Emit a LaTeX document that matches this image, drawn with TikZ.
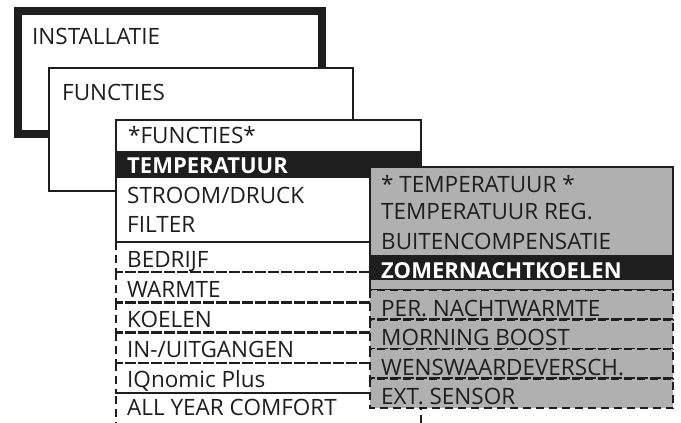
\documentclass[tikz,border=0pt]{standalone}
\usepackage{fontspec}
\setmainfont{Open Sans}
\usepackage{tikz}
\usetikzlibrary{positioning}
\definecolor{ink}{HTML}{1E1E1E}
\definecolor{panel}{HTML}{B0B0B0}

\begin{document}
\begin{tikzpicture}[x=1pt,y=-1pt,
  item/.style={anchor=base west,inner sep=0pt,font=\fontsize{22.5}{22.5}\selectfont,text=ink},
  sel/.style={item,font=\fontsize{22}{22}\selectfont\bfseries,text=white},
  frame/.style={draw=ink,line width=1.6pt},
  slot/.style={draw=ink,line width=2.5pt,dash pattern=on 8pt off 5pt}]
\useasboundingbox (0,0) rectangle (681,423);
% top level window
\draw[draw=ink,line width=8pt,fill=white] (18,11) rectangle (322,134);
\node[item] (inst) at (32,44) {INSTALLATIE};
% second level
\draw[frame,line width=2pt,fill=white] (49,68) rectangle (353,191);
\node[item] (func) at (62,100) {FUNCTIES};
% function list, fixed part
\draw[frame,fill=white] (116,120) rectangle (421,242);
\fill[ink] (116,151) rectangle (421,178);
\node[item] (fhead) at (128,143) {*FUNCTIES*};
\node[sel] (ftemp) at (127,173) {TEMPERATUUR};
\node[item] (fstroom) at (127,203) {STROOM/DRUCK};
\node[item] (ffilter) at (127,232) {FILTER};
% function list, optional entries
\foreach \t [count=\i] in {BEDRIJF,WARMTE,KOELEN,IN-/UITGANGEN,IQnomic Plus}{
  \draw[slot] (116,242+30.2*\i-30.2) rectangle +(305,30.2);
  \node[item] (fopt-\i) at (127,267+30.2*\i-30.2) {\t};
}
\draw[slot] (116,430) -- (116,393) -- (421,393) -- (421,430);
\node[item] (fopt-6) at (127,415) {ALL YEAR COMFORT};
% temperature submenu
\draw[frame,fill=panel] (370,167) rectangle (673,290);
\fill[ink] (370,255) rectangle (673,280);
\node[item] (thead) at (381,192) {* TEMPERATUUR *};
\node[item] (treg) at (381,219) {TEMPERATUUR REG.};
\node[item] (tbuiten) at (381,249) {BUITENCOMPENSATIE};
\node[sel] (tzomer) at (381,278) {ZOMERNACHTKOELEN};
\foreach \t [count=\i] in {PER. NACHTWARMTE,MORNING BOOST,WENSWAARDEVERSCH.,EXT. SENSOR}{
  \draw[slot,fill=panel] (370,290+29.5*\i-29.5) rectangle +(303,29.5);
  \node[item] (topt-\i) at (381,316+29.5*\i-29.5) {\t};
}
\end{tikzpicture}
\end{document}
